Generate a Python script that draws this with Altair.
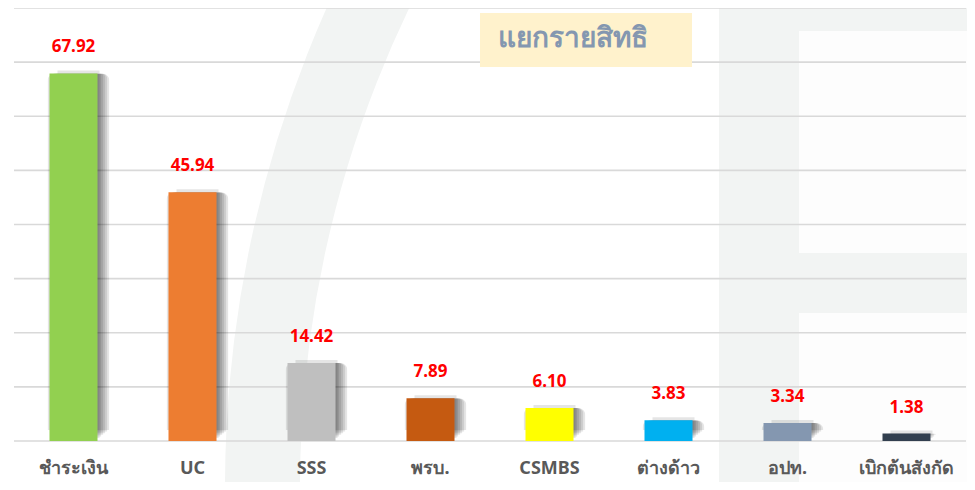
import altair as alt
import pandas as pd

categories = ["ชำระเงิน", "UC", "SSS", "พรบ.", "CSMBS", "ต่างด้าว", "อปท.", "เบิกต้นสังกัด"]
values = [67.92, 45.94, 14.42, 7.89, 6.10, 3.83, 3.34, 1.38]
colors = ["#92d050", "#ed7d31", "#bfbfbf", "#c55a11", "#ffff00", "#00b0f0", "#8497b0", "#323f4f"]
grid_values = [0, 10, 20, 30, 40, 50, 60, 70, 80]
title_text = "แยกรายสิทธิ"

df = pd.DataFrame({
    "cat": categories,
    "value": values,
    "color": colors,
    "label": [f"{v:.2f}" for v in values],
})
grid_df = pd.DataFrame({"g": grid_values})
one = pd.DataFrame({"a": [0]})

W, H = 952, 433
FONT = "Noto Sans"

xs = alt.Scale(domain=categories, paddingInner=0.6, paddingOuter=0.3)
ys = alt.Scale(domain=[0, 80], nice=False)

x_axis = alt.Axis(title=None, labelAngle=0, ticks=False, domain=False, grid=False,
                  labelFont=FONT, labelFontSize=18, labelFontWeight="bold",
                  labelColor="#595959", labelPadding=18, labelOverlap=False,
                  zindex=1)

X = alt.X("cat:N", sort=categories, scale=xs, axis=x_axis)
Y = alt.Y("value:Q", scale=ys, axis=None)

# decorative watermark (background)
wm_color = "#f2f4f3"
arc = alt.Chart(one).mark_arc(color=wm_color, theta=4.60, theta2=5.25,
                              radius=1180, radius2=1105).encode(
    x=alt.value(1391), y=alt.value(479))
rgray = alt.Chart(one).mark_rect(color=wm_color).encode(
    x=alt.value(705), x2=alt.value(970), y=alt.value(-8), y2=alt.value(482))
rwhite1 = alt.Chart(one).mark_rect(color="#fdfdfd").encode(
    x=alt.value(785), x2=alt.value(970), y=alt.value(23), y2=alt.value(245))
rwhite2 = alt.Chart(one).mark_rect(color="#fdfdfd").encode(
    x=alt.value(785), x2=alt.value(970), y=alt.value(305), y2=alt.value(482))

grid = alt.Chart(grid_df).mark_rule(color="#d9d9d9", strokeWidth=1.6).encode(
    y=alt.Y("g:Q", scale=ys, axis=None))

shadows = []
for k in range(6):
    shadows.append(
        alt.Chart(df).mark_bar(size=42 + 4 * k, color="#000000", opacity=0.1,
                               xOffset=5, yOffset=-3 - 1.6 * k, y2Offset=-5 + 1.2 * k,
                               cornerRadius=k * 1.5).encode(x=X, y=Y)
    )

bars = alt.Chart(df).mark_bar(size=48).encode(
    x=X, y=Y, color=alt.Color("color:N", scale=None, legend=None))

labels = alt.Chart(df).mark_text(dy=-17, baseline="bottom", font=FONT, fontSize=17,
                                 fontWeight="bold", color="#ff0000").encode(
    x=X, y=Y, text="label:N")

title_box = alt.Chart(one).mark_rect(color="#fff2cc").encode(
    x=alt.value(466), x2=alt.value(678), y=alt.value(5), y2=alt.value(59))
title = alt.Chart(one).mark_text(text=title_text, align="left", baseline="middle",
                                 font=FONT, fontSize=28, fontWeight="bold",
                                 color="#8497b0").encode(
    x=alt.value(484), y=alt.value(31))

chart = alt.layer(arc, rgray, rwhite1, rwhite2, grid, *shadows, bars, labels,
                  title_box, title).properties(
    width=W, height=H, autosize="none",
    padding={"left": 6, "top": 0, "right": 1, "bottom": 41},
    background="#ffffff",
).configure_view(stroke=None)

chart.save("out.html", embed_options={"renderer": "svg", "actions": False})
